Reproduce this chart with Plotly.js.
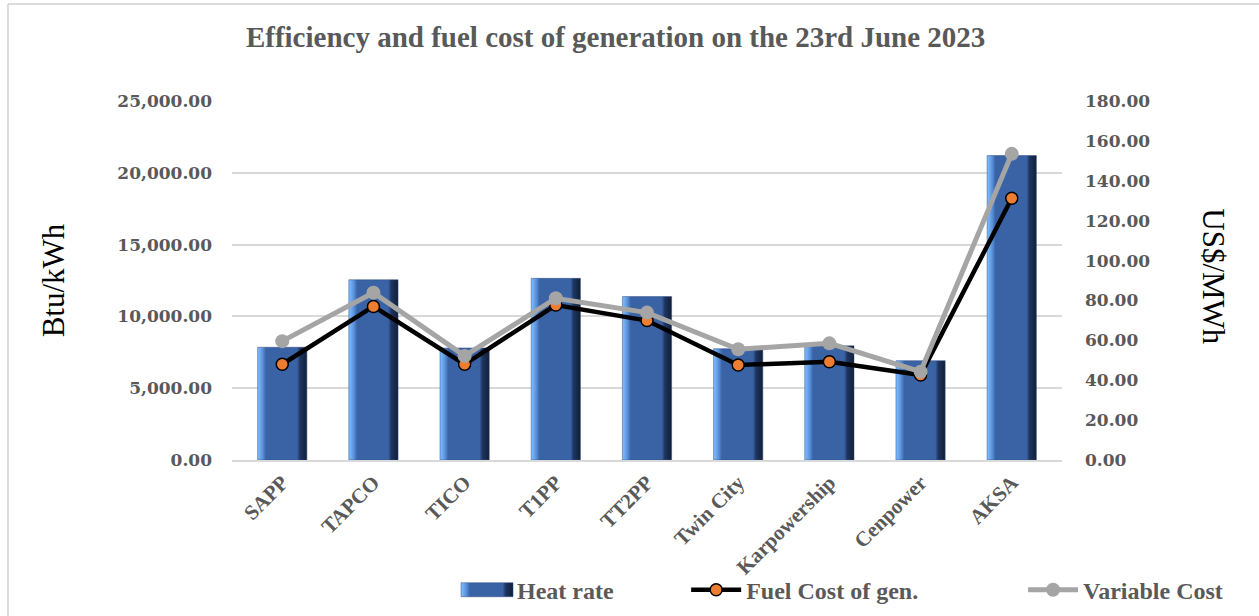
<!DOCTYPE html>
<html>
<head>
<meta charset="utf-8">
<script src="https://cdn.plot.ly/plotly-3.0.1.min.js"></script>
<style>
html,body{margin:0;padding:0;background:#fff;}
#chart{width:1259px;height:616px;}
</style>
</head>
<body>
<div id="chart"></div>
<script>
const categories = ["SAPP","TAPCO","TICO","T1PP","TT2PP","Twin City","Karpowership","Cenpower","AKSA"];
const heatRate = [7850, 12550, 7800, 12650, 11380, 7750, 7950, 6920, 21200];
const fuelCost = [48.0, 77.0, 48.0, 77.7, 69.9, 47.6, 49.3, 42.6, 131.2];
const variableCost = [59.6, 83.9, 52.2, 81.1, 73.9, 55.5, 58.5, 44.3, 153.5];
const leftTicks = [0, 5000, 10000, 15000, 20000, 25000];
const rightTicks = [0, 20, 40, 60, 80, 100, 120, 140, 160, 180];

const FONT = "'Liberation Serif', 'DejaVu Serif', serif";
const WIDE = "'DejaVu Serif', 'Liberation Serif', serif";
const tickFont = {family: WIDE, size: 17, color: '#595959', weight: 'bold'};

const traces = [
  {
    type: 'bar', name: 'Heat rate', x: categories, y: heatRate,
    marker: {color: '#3a63a6', line: {color: '#2c4d85', width: 0.5}},
    legend: 'legend', yaxis: 'y'
  },
  {
    type: 'scatter', mode: 'lines+markers', name: 'Fuel Cost of gen.', x: categories, y: fuelCost,
    line: {color: '#000000', width: 4.5},
    marker: {color: '#ED7D31', size: 12, line: {color: '#000000', width: 1.5}},
    legend: 'legend2', yaxis: 'y2'
  },
  {
    type: 'scatter', mode: 'lines+markers', name: 'Variable Cost', x: categories, y: variableCost,
    line: {color: '#A5A5A5', width: 5},
    marker: {color: '#A5A5A5', size: 14},
    legend: 'legend3', yaxis: 'y2'
  }
];

const legFont = {family: FONT, size: 24, color: '#595959', weight: 'bold'};
const legBase = {orientation: 'h', yanchor: 'middle', y: 0.042, yref: 'container', xref: 'container', xanchor: 'left',
  font: legFont, bgcolor: 'rgba(0,0,0,0)', itemwidth: 50};

const layout = {
  width: 1259, height: 616,
  margin: {l: 232, r: 197, t: 101, b: 156},
  paper_bgcolor: '#ffffff', plot_bgcolor: '#ffffff',
  showlegend: true,
  bargap: 0.46,
  title: {text: 'Efficiency and fuel cost of generation on the 23rd June 2023',
    font: {family: FONT, size: 29, color: '#595959', weight: 'bold'},
    x: 0.489, xref: 'container', xanchor: 'center', y: 0.94, yref: 'container', yanchor: 'middle'},
  xaxis: {
    tickangle: -45, tickfont: {family: FONT, size: 21, color: '#595959', weight: 'bold'},
    showgrid: false, zeroline: false, automargin: false,
    showline: true, linecolor: '#D9D9D9', linewidth: 2, ticks: ''
  },
  yaxis: {
    range: [0, 25000], tickvals: leftTicks, tickformat: ',.2f', tickfont: tickFont,
    showgrid: true, gridcolor: '#D9D9D9', gridwidth: 2, zeroline: false, ticks: '',
    ticklabelstandoff: 19, showline: false, automargin: false,
    title: {text: 'Btu/kWh', font: {family: FONT, size: 31, color: '#000000'}, standoff: 43}
  },
  yaxis2: {
    overlaying: 'y', side: 'right', range: [0, 180], tickvals: rightTicks, tickformat: '.2f', automargin: false,
    tickfont: tickFont, showgrid: false, zeroline: false, ticks: '', ticklabelstandoff: 22, showline: false
  },
  legend: Object.assign({}, legBase, {x: 0.363}),
  legend2: Object.assign({}, legBase, {x: 0.545}),
  legend3: Object.assign({}, legBase, {x: 0.8126}),
  annotations: [
    {text: 'US$/MWh', xref: 'paper', yref: 'paper', x: 1.205, y: 0.51, textangle: 90, showarrow: false,
     font: {family: FONT, size: 31, color: '#000000'}}
  ],
  shapes: [
    {type: 'line', xref: 'paper', yref: 'paper', x0: -0.2699, x1: 1.24, y0: 1.2702, y1: 1.2702,
     line: {color: '#D0D0D0', width: 1.5}, layer: 'below'},
    {type: 'line', xref: 'paper', yref: 'paper', x0: -0.2699, x1: -0.2699, y0: 1.2702, y1: -0.45,
     line: {color: '#D0D0D0', width: 1.5}, layer: 'below'}
  ]
};

Plotly.newPlot('chart', traces, layout, {displayModeBar: false, staticPlot: true}).then(function(gd){
  const svg = gd.querySelector('svg.main-svg');
  const ns = 'http://www.w3.org/2000/svg';
  let defs = svg.querySelector('defs');
  if (!defs) { defs = document.createElementNS(ns, 'defs'); svg.insertBefore(defs, svg.firstChild); }
  const g = document.createElementNS(ns, 'linearGradient');
  g.setAttribute('id', 'barBevel');
  g.setAttribute('x1', '0'); g.setAttribute('x2', '1'); g.setAttribute('y1', '0'); g.setAttribute('y2', '0');
  [['0', '#82c0ff'], ['0.1', '#5a93dc'], ['0.17', '#3a63a6'], ['0.8', '#3a63a6'], ['0.86', '#1e3560'], ['1', '#121f38']].forEach(function(s){
    const st = document.createElementNS(ns, 'stop');
    st.setAttribute('offset', s[0]); st.setAttribute('stop-color', s[1]);
    g.appendChild(st);
  });
  defs.appendChild(g);
  gd.querySelectorAll('.barlayer .point path').forEach(function(p){
    p.style.fill = 'url(#barBevel)';
  });
  gd.querySelectorAll('.legend .legendpoints path').forEach(function(p){
    if (p.style.fill && p.style.fill.indexOf('58, 99, 166') >= 0) {
      p.style.fill = 'url(#barBevel)';
      p.setAttribute('d', 'M26,7H-26V-7H26Z');
    }
  });
  gd.querySelectorAll('.legendtext').forEach(function(t){
    if (t.textContent === 'Variable Cost') {
      t.setAttribute('textLength', '114');
      t.setAttribute('lengthAdjust', 'spacingAndGlyphs');
    }
  });
});
</script>
</body>
</html>
